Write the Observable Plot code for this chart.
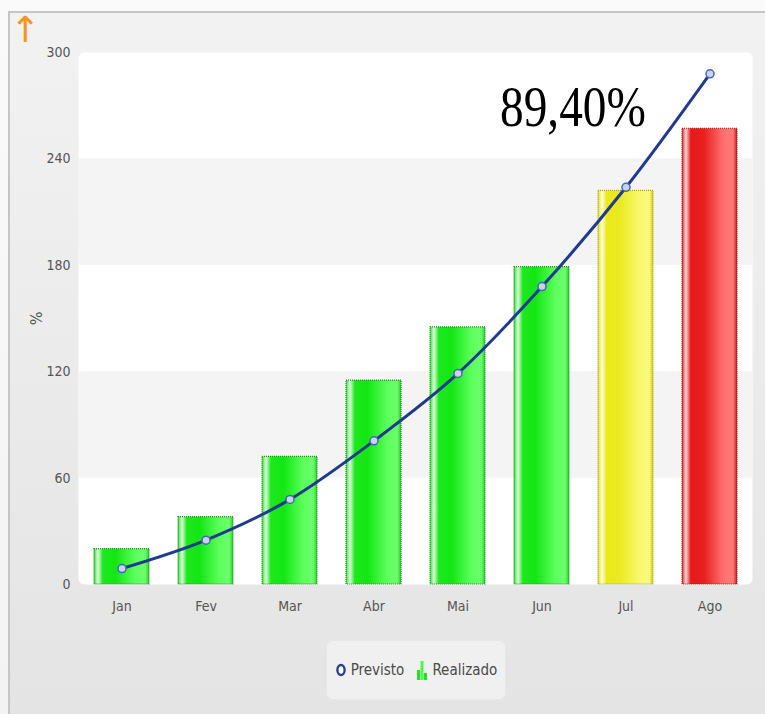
<!DOCTYPE html>
<html>
<head>
<meta charset="utf-8">
<script src="https://cdn.jsdelivr.net/npm/d3@7"></script>
<script src="https://cdn.jsdelivr.net/npm/@observablehq/plot@0.6"></script>
<style>
  html, body { margin: 0; padding: 0; width: 765px; height: 714px; overflow: hidden;
    background: linear-gradient(to bottom, #fafafa, #f3f3f3); }
  #frame { position: absolute; left: 8px; top: 11px; width: 757px; height: 703px;
    border-top: 2px solid #c6c6c6; border-left: 2px solid #c6c6c6;
    background: linear-gradient(to bottom, #f2f2f2, #e4e4e4); box-sizing: border-box; }
  #arrow { position: absolute; left: 10px; top: 12px; font: 36px "DejaVu Sans", sans-serif; color: #f7941d; line-height: 1; }
  #chart { position: absolute; left: 0; top: 0; }
  #note { position: absolute; left: 500px; top: 78px; font: 57px "Liberation Serif", "DejaVu Serif", serif;
    line-height: 1; color: #000; transform: scaleX(0.83); transform-origin: left top; white-space: nowrap; }
  #legend { position: absolute; left: 327px; top: 641px; width: 178px; height: 58px; background: #f0f0f0;
    border-radius: 6px; display: flex; align-items: center; justify-content: center; gap: 12px;
    font: 15px "DejaVu Sans Condensed", "Liberation Sans", sans-serif; color: #4a4a4a; }
  #legend span { display: inline-flex; align-items: center; gap: 4px; }
</style>
</head>
<body>
<div id="frame"></div>
<div id="arrow">↑</div>
<div id="chart"></div>
<div id="note">89,40%</div>
<div id="legend">
  <span><svg width="12" height="16"><ellipse cx="6" cy="8" rx="3.6" ry="5" fill="#fff" stroke="#2a3f96" stroke-width="2.4"/></svg>Previsto</span>
  <span><svg width="12" height="22"><rect x="1" y="11" width="3" height="10" fill="#22e022"/><rect x="4.5" y="2" width="3" height="19" fill="#44ff44"/><rect x="8" y="14" width="3" height="7" fill="#22e022"/></svg>Realizado</span>
</div>
<script>
const months = ["Jan", "Fev", "Mar", "Abr", "Mai", "Jun", "Jul", "Ago"];
const realizado = [20, 38, 72, 115, 145, 179, 222, 257];
const previsto = [9, 25, 48, 81, 119, 168, 224, 288];
const status = ["verde", "verde", "verde", "verde", "verde", "verde", "amarelo", "vermelho"];
const yTicks = [0, 60, 120, 180, 240, 300];
const bandLo = [180, 60];
const bandHi = [240, 120];

const gradients = {
  verde:    {stops: ["#2fdc2f", "#e0ffe0", "#1ee81e", "#14e614", "#5cff5c", "#6dff6d", "#2ccc2c"], edge: "#129a12"},
  amarelo:  {stops: ["#dede1e", "#ffffd8", "#e8e81a", "#eaea22", "#f8f870", "#fafa80", "#d0d020"], edge: "#a8a810"},
  vermelho: {stops: ["#dd2020", "#ffd8d8", "#e41a1a", "#e82020", "#ff7070", "#ff7a7a", "#c81818"], edge: "#a01010"}
};
const offsets = [0, 0.07, 0.16, 0.4, 0.75, 0.93, 1];

const bars = months.map((m, i) => ({month: m, value: realizado[i], status: status[i]}));
const line = months.map((m, i) => ({month: m, value: previsto[i]}));
const bands = bandLo.map((lo, i) => ({lo, hi: bandHi[i]}));

const W = 765, H = 630;
const plot = Plot.plot({
  width: W, height: H,
  marginLeft: 78, marginRight: 13, marginTop: 52, marginBottom: H - 584,
  style: {background: "transparent", fontFamily: "'DejaVu Sans Condensed', 'Liberation Sans', sans-serif", fontSize: "14px", color: "#555"},
  x: {domain: months, paddingInner: 0.35, paddingOuter: 0.175, label: null, tickSize: 0, tickPadding: 17},
  y: {domain: [0, 300], ticks: yTicks, tickSize: 0, tickPadding: 8, label: "%", labelAnchor: "center", labelOffset: 48, labelArrow: "none"},
  color: {type: "identity"},
  marks: [
    Plot.frame({fill: "white", rx: 6}),
    Plot.rect(bands, {y1: "lo", y2: "hi", fill: "#f4f4f4"}),
    Plot.barY(bars, {x: "month", y: "value", fill: d => `url(#grad-${d.status})`,
      stroke: d => gradients[d.status].edge, strokeWidth: 1.2, strokeDasharray: "1,1"}),
    Plot.line(line, {x: "month", y: "value", stroke: "#1f3a8e", strokeWidth: 3, curve: "monotone-x"}),
    Plot.dot(line, {x: "month", y: "value", r: 4, fill: "#c8d4ee", stroke: "#4866b0", strokeWidth: 1.5})
  ]
});

// gradient definitions for bar fills
const svg = d3.select(plot);
const defs = svg.insert("defs", ":first-child");
for (const [k, g] of Object.entries(gradients)) {
  const lg = defs.append("linearGradient").attr("id", `grad-${k}`).attr("x1", "0").attr("x2", "1").attr("y1", "0").attr("y2", "0");
  g.stops.forEach((c, i) => lg.append("stop").attr("offset", offsets[i]).attr("stop-color", c));
}
// larger rotated "%" axis label
svg.selectAll("[aria-label='y-axis label'] text").style("font-size", "16px");
document.getElementById("chart").appendChild(plot);
</script>
</body>
</html>
